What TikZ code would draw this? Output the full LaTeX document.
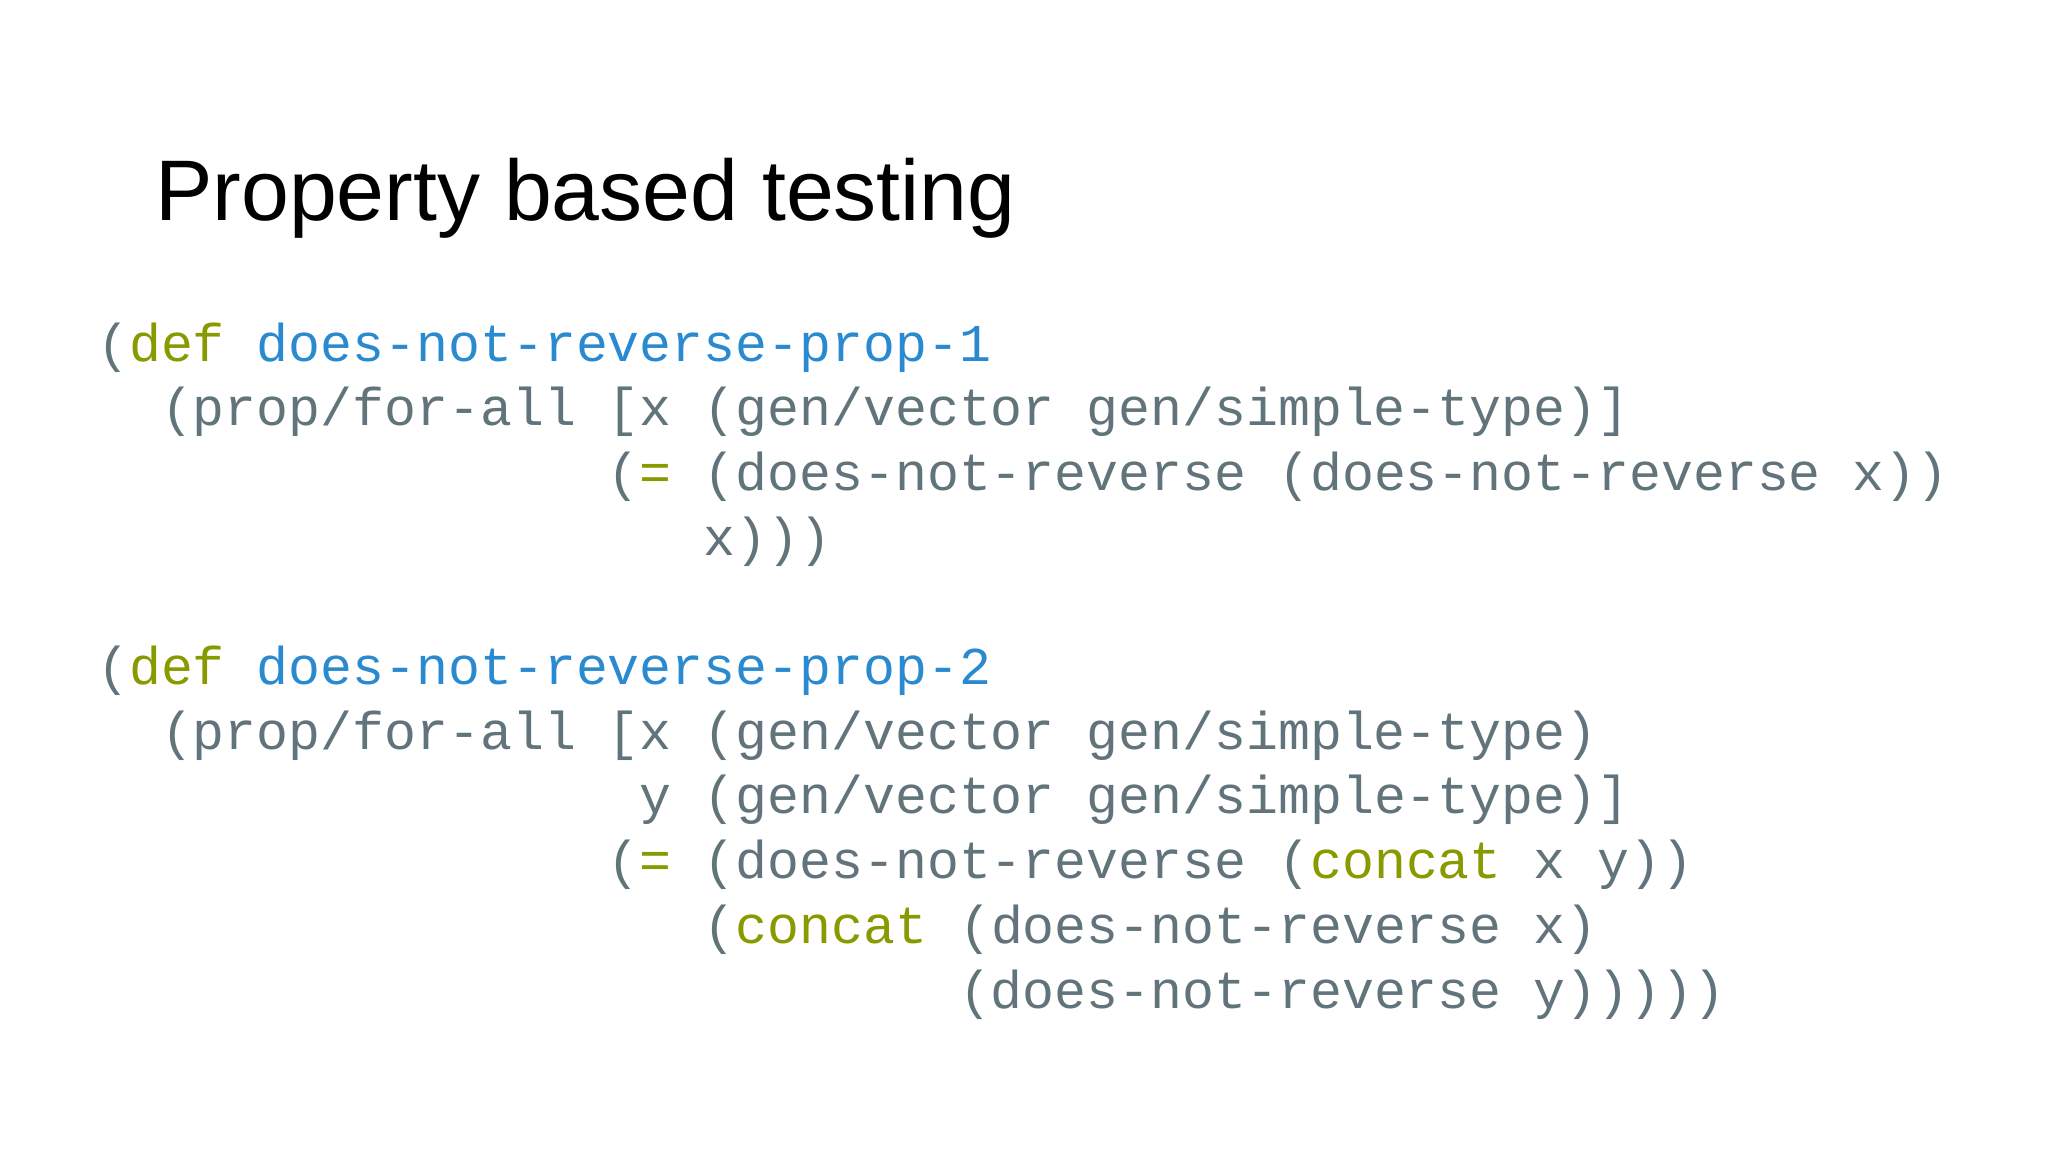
\documentclass[tikz,border=0pt]{standalone}
\usepackage{fontspec}
\setmainfont{Liberation Sans}
\setmonofont{Liberation Mono}
\definecolor{cgray}{HTML}{62747B}
\definecolor{cgreen}{HTML}{879A00}
\definecolor{cblue}{HTML}{2A8AD0}
\newcommand{\kw}[1]{\textcolor{cgreen}{#1}}
\newcommand{\nm}[1]{\textcolor{cblue}{#1}}
\begin{document}
\begin{tikzpicture}[x=1pt,y=-1pt,
  codeline/.style={anchor=base west,inner sep=0pt,text=cgray,font=\ttfamily\fontsize{53.2}{64}\selectfont},
  titletext/.style={anchor=base west,inner sep=0pt,font=\fontsize{86}{96}\selectfont}]
\useasboundingbox (0,0) rectangle (2048,1152);
\fill[white] (0,0) rectangle (2048,1152);
\def\cw{31.92}
\def\lh{64.7}
\def\bx{97}
\def\by{361}
\node[titletext] (title) at (155,220) {Property based testing};
\node[codeline] (l1) at (\bx,\by) {(\kw{def} \nm{does-not-reverse-prop-1}};
\node[codeline] (l2) at (\bx+2*\cw,\by+\lh) {(prop/for-all [x (gen/vector gen/simple-type)]};
\node[codeline] (l3) at (\bx+16*\cw,\by+2*\lh) {(\kw{=} (does-not-reverse (does-not-reverse x))};
\node[codeline] (l4) at (\bx+19*\cw,\by+3*\lh) {x)))};
\node[codeline] (l5) at (\bx,\by+5*\lh) {(\kw{def} \nm{does-not-reverse-prop-2}};
\node[codeline] (l6) at (\bx+2*\cw,\by+6*\lh) {(prop/for-all [x (gen/vector gen/simple-type)};
\node[codeline] (l7) at (\bx+17*\cw,\by+7*\lh) {y (gen/vector gen/simple-type)]};
\node[codeline] (l8) at (\bx+16*\cw,\by+8*\lh) {(\kw{=} (does-not-reverse (\kw{concat} x y))};
\node[codeline] (l9) at (\bx+19*\cw,\by+9*\lh) {(\kw{concat} (does-not-reverse x)};
\node[codeline] (l10) at (\bx+27*\cw,\by+10*\lh) {(does-not-reverse y)))))};
\end{tikzpicture}
\end{document}
